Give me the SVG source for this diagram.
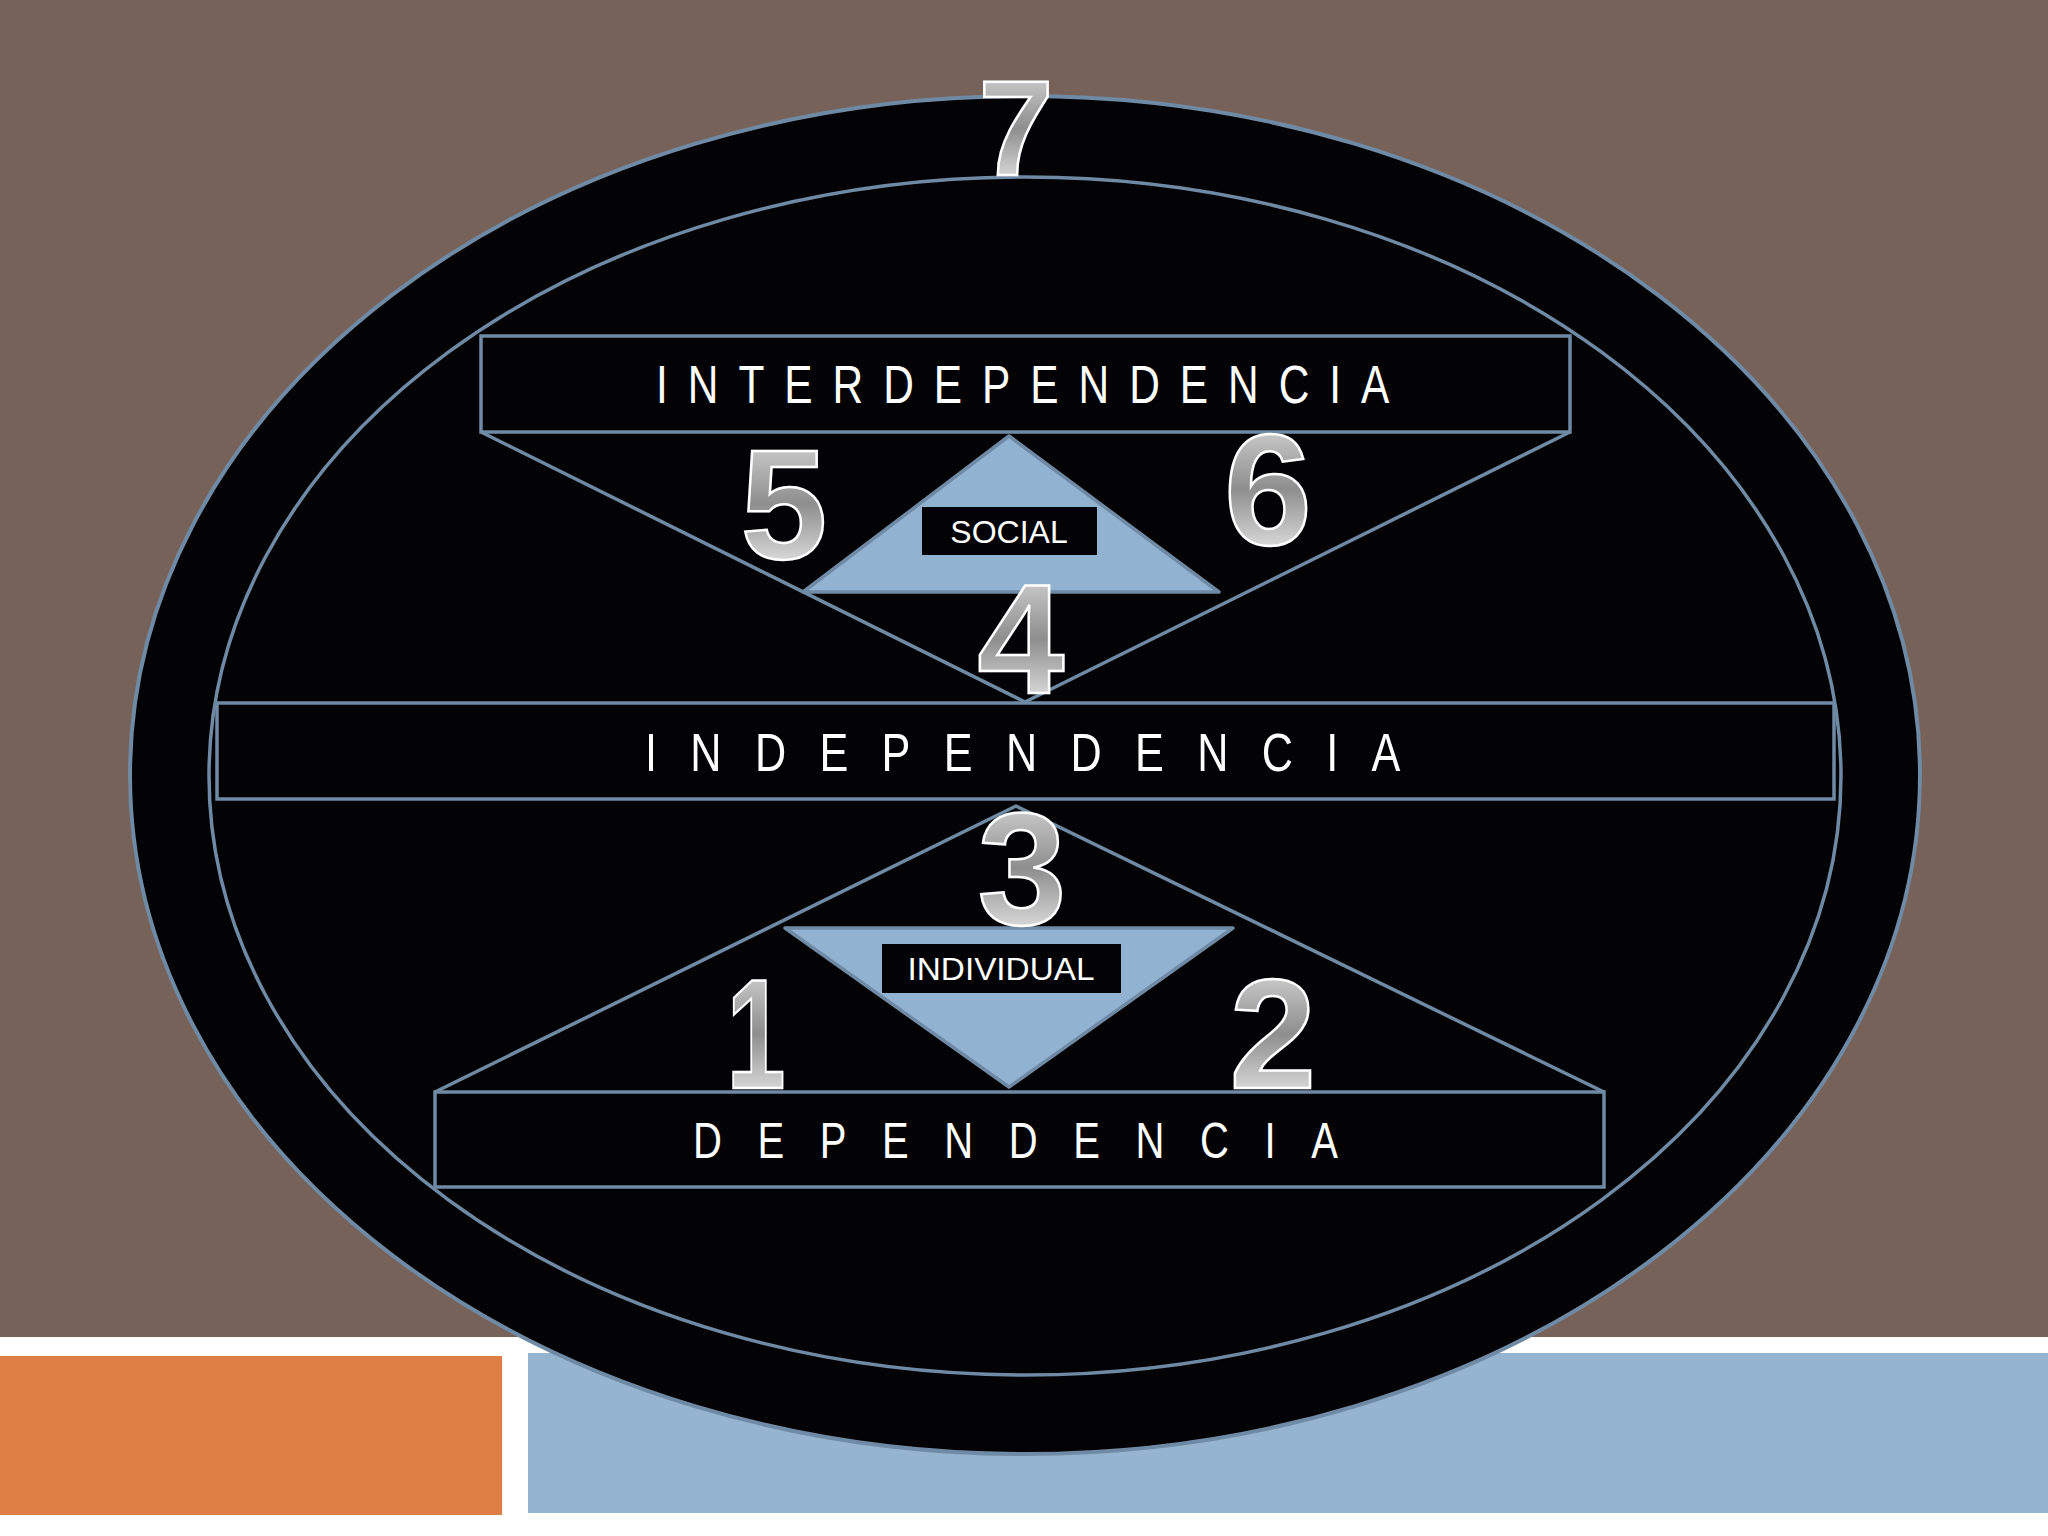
<svg xmlns="http://www.w3.org/2000/svg" width="2048" height="1536" viewBox="0 0 2048 1536">
<defs>
<linearGradient id="chrome" x1="0" y1="0" x2="0" y2="1">
<stop offset="0" stop-color="#e6e6e6"/>
<stop offset="0.5" stop-color="#8e8e8e"/>
<stop offset="1" stop-color="#ffffff"/>
</linearGradient>
<style>
.ln{fill:none;stroke:#6f8aa4;stroke-width:3.5;stroke-linejoin:round}
.box{fill:#030306;stroke:#6f8aa4;stroke-width:3.5}
.tri{fill:#92b2d1;stroke:#6f8aa4;stroke-width:3.5;stroke-linejoin:round}
.lbl{fill:#030306}
.big{font-family:"Liberation Sans",Arial,sans-serif;fill:#ffffff}
.small{font-family:"Liberation Sans",Arial,sans-serif;fill:#ffffff;text-anchor:middle}
.num{font-family:"Liberation Sans",Arial,sans-serif;font-weight:bold;fill:url(#chrome);stroke:#ffffff;stroke-width:2.5;text-anchor:middle}
</style>
</defs>
<rect x="0" y="0" width="2048" height="1536" fill="#ffffff"/>
<rect x="0" y="0" width="2048" height="1337" fill="#77625a"/>
<rect x="0" y="1356" width="502" height="159" fill="#de8046"/>
<rect x="528" y="1353" width="1520" height="160" fill="#95b4d0"/>

<g id="outer-ellipse">
<ellipse cx="1025" cy="775" rx="895" ry="679" fill="#030306" stroke="#6f8aa4" stroke-width="4"/>
</g>
<g id="inner-ellipse">
<ellipse cx="1025" cy="776" rx="816" ry="599" class="ln"/>
</g>

<g id="connectors">
<polyline class="ln" points="481,432 1025,702 1570,432"/>
<polyline class="ln" points="435,1092 1016,806 1604,1092"/>
</g>

<g id="interdependencia">
<rect class="box" x="481" y="336" width="1089" height="96"/>
<text class="big" font-size="53" letter-spacing="25" transform="translate(656,403) scale(0.8,1)">INTERDEPENDENCIA</text>
</g>
<g id="independencia">
<rect class="box" x="217" y="703" width="1617" height="96"/>
<text class="big" font-size="54" letter-spacing="41.7" transform="translate(645,771) scale(0.8,1)">INDEPENDENCIA</text>
</g>
<g id="dependencia">
<rect class="box" x="435" y="1092" width="1169" height="95"/>
<text class="big" font-size="50" letter-spacing="44.5" transform="translate(693,1158) scale(0.8,1)">DEPENDENCIA</text>
</g>

<g id="social">
<polygon class="tri" points="1009,436 1219,592 803,592"/>
<rect class="lbl" x="922" y="507" width="175" height="48"/>
<text class="small" x="1009" y="543" font-size="32">SOCIAL</text>
</g>
<g id="individual">
<polygon class="tri" points="785,928 1233,928 1009,1087"/>
<rect class="lbl" x="882" y="944" width="239" height="49"/>
<text class="small" x="1001" y="980" font-size="31" textLength="187" lengthAdjust="spacingAndGlyphs">INDIVIDUAL</text>
</g>

<g id="n7"><text class="num" x="1016" y="175" font-size="135">7</text></g>
<g id="n5"><text class="num" x="784" y="558" font-size="156">5</text></g>
<g id="n6"><text class="num" x="1268" y="544" font-size="158">6</text></g>
<g id="n4"><text class="num" x="1021" y="693" font-size="156">4</text></g>
<g id="n3"><text class="num" x="1022" y="924" font-size="160">3</text></g>
<g id="n1"><text class="num" x="0" y="0" font-size="156" transform="translate(756,1088) scale(0.68,1)">1</text></g>
<g id="n2"><text class="num" x="1273" y="1088" font-size="156">2</text></g>
</svg>
